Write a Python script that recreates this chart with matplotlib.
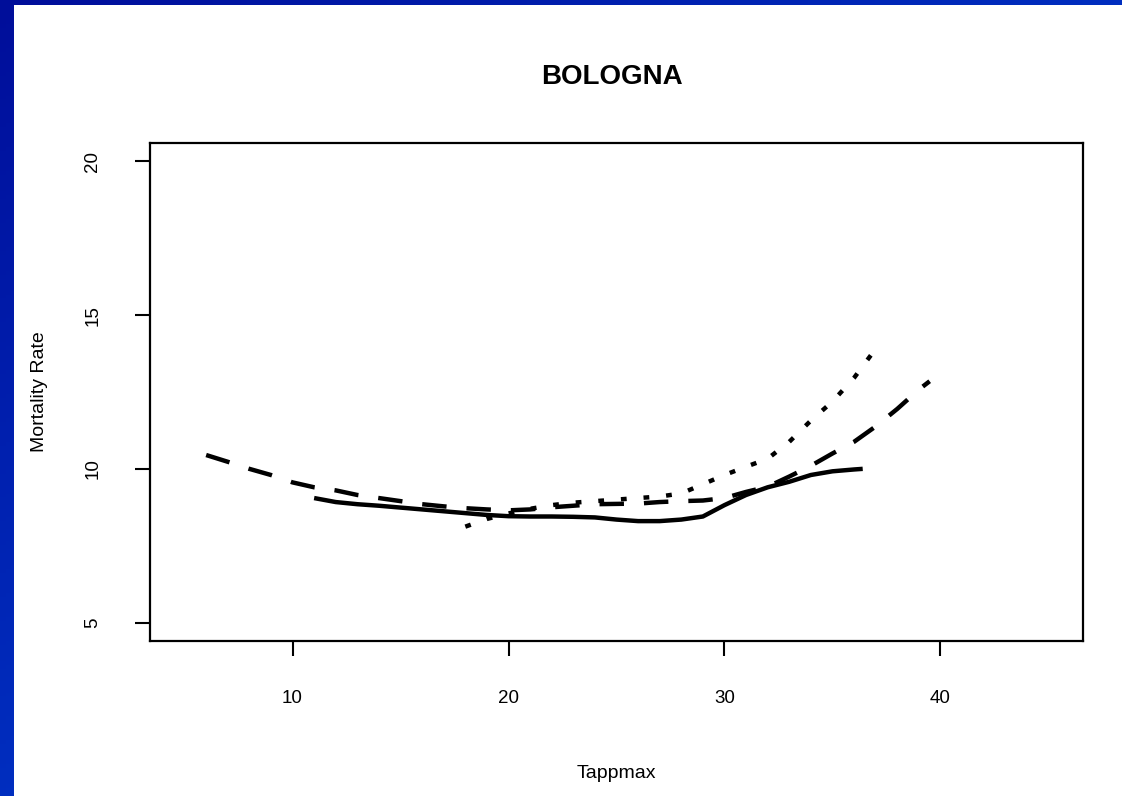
import numpy as np
import matplotlib
matplotlib.use("Agg")
import matplotlib.pyplot as plt
from matplotlib.patches import Rectangle

# ==================== DATA ====================
title = "BOLOGNA"
x_label = "Tappmax"
y_label = "Mortality Rate"
x_ticks = [10, 20, 30, 40]
y_ticks = [5, 10, 15, 20]

# solid curve
solid_x = [11, 12, 13, 14, 15, 16, 17, 18, 19, 20, 21, 22, 23, 24, 25, 26,
           27, 28, 29, 30, 31, 32, 33, 34, 35, 36, 36.4]
solid_y = [9.05, 8.92, 8.85, 8.80, 8.74, 8.68, 8.62, 8.56, 8.50, 8.46, 8.45,
           8.45, 8.44, 8.42, 8.35, 8.30, 8.30, 8.35, 8.45, 8.82, 9.15, 9.40,
           9.58, 9.80, 9.92, 9.98, 10.0]

# dashed curve
dashed_x = [6, 7, 8, 9, 10, 11, 12, 13, 14, 15, 16, 17, 18, 19, 20, 21, 22,
            23, 24, 25, 26, 27, 28, 29, 30, 31, 32, 33, 34, 35, 36, 37, 38,
            39, 39.5]
dashed_y = [10.45, 10.23, 10.0, 9.80, 9.56, 9.40, 9.30, 9.15, 9.05, 8.95,
            8.85, 8.78, 8.72, 8.68, 8.65, 8.68, 8.75, 8.80, 8.85, 8.86, 8.87,
            8.92, 8.95, 8.97, 9.05, 9.25, 9.42, 9.75, 10.1, 10.5, 10.88,
            11.38, 11.95, 12.58, 12.85]

# dotted curve
dotted_x = [18, 19, 20, 21, 22, 23, 24, 25, 26, 27, 28, 29, 30, 31, 32, 33,
            34, 35, 36, 37.1]
dotted_y = [8.12, 8.37, 8.55, 8.70, 8.82, 8.90, 8.95, 9.00, 9.05, 9.10, 9.20,
            9.50, 9.80, 10.07, 10.33, 10.88, 11.57, 12.19, 12.96, 14.0]

# ==================== FIGURE ====================
plt.rcParams['font.family'] = ['Liberation Sans', 'DejaVu Sans']

W, H = 1122, 796
fig = plt.figure(figsize=(W / 100, H / 100), dpi=100)

# blue slide background (gradient) with white panel on top
bg = fig.add_axes([0, 0, 1, 1], zorder=-10)
u = np.linspace(0, 1, 200)[None, :]
v = np.linspace(0, 1, 200)[:, None]
t = np.clip((u + v) / 1.5, 0, 1)
c0 = np.array([0, 14, 154]) / 255
c1 = np.array([0, 62, 210]) / 255
grad = c0[None, None, :] + (c1 - c0)[None, None, :] * t[:, :, None]
bg.imshow(grad, aspect='auto', extent=[0, 1, 0, 1], origin='upper')
bg.add_patch(Rectangle((14 / W, 0), 1 - 14 / W, 1 - 5 / H,
                       facecolor='white', edgecolor='none'))
bg.set_xlim(0, 1)
bg.set_ylim(0, 1)
bg.axis('off')

ax = fig.add_axes([150 / W, 1 - 641 / H, (1083 - 150) / W, (641 - 143) / H])
ax.set_facecolor('white')

lw = 3.2
ax.plot(solid_x, solid_y, color='black', lw=lw, solid_capstyle='butt')
ax.plot(dashed_x, dashed_y, color='black', lw=lw, dashes=(5.5, 4.5),
        dash_capstyle='butt')
ax.plot(dotted_x, dotted_y, color='black', lw=lw, dashes=(1.3, 3.8),
        dash_capstyle='butt')

ax.set_xlim(3.4, 46.6)
ax.set_ylim(4.4, 20.6)
ax.set_xticks(x_ticks)
ax.set_yticks(y_ticks)
for s in ax.spines.values():
    s.set_linewidth(1.6)
ax.tick_params(axis='both', length=11, width=1.5, labelsize=13.5)
ax.tick_params(axis='x', pad=24)
ax.tick_params(axis='y', pad=24, labelrotation=90)
for lab in ax.get_yticklabels():
    lab.set_va('center')

ax.set_xlabel(x_label, fontsize=14, labelpad=42)
ax.set_ylabel(y_label, fontsize=14, labelpad=26)
fig.text(612 / W, 1 - 77 / H, title, fontsize=20, fontweight='bold',
         ha='center', va='center')

fig.savefig('out.png', dpi=100)
